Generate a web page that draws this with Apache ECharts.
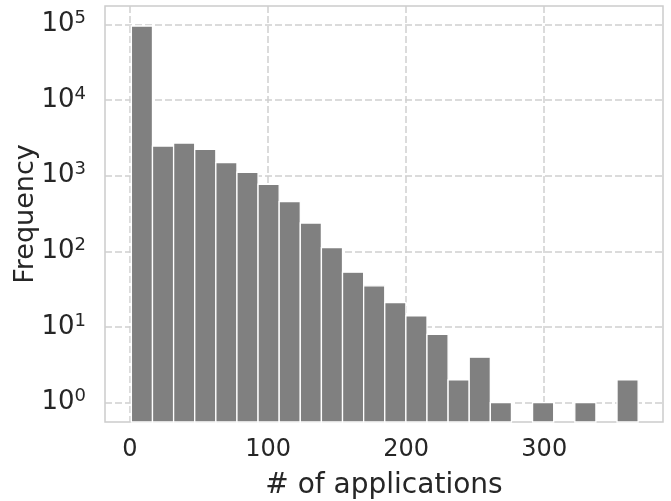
<!DOCTYPE html>
<html>
<head>
<meta charset="utf-8">
<script src="https://cdn.jsdelivr.net/npm/echarts@6/dist/echarts.min.js"></script>
<style>
  html, body { margin: 0; padding: 0; background: #fff; }
  #chart { width: 671px; height: 501px; }
</style>
</head>
<body>
<div id="chart"></div>
<script>
// histogram of # of applications, 24 equal bins from 1 to 368
const binLow = 1;
const binHigh = 368;
const counts = [95000, 2460, 2700, 2220, 1490, 1110, 770, 455, 237, 112, 53, 35,
  21, 14, 8, 2, 4, 1, 0, 1, 0, 1, 0, 2];
const xTicks = [0, 100, 200, 300];
const yTicks = [1, 10, 100, 1000, 10000, 100000];

const binWidth = (binHigh - binLow) / counts.length;
const bins = [];
counts.forEach((c, i) => {
  if (c > 0) bins.push([binLow + i * binWidth, binLow + (i + 1) * binWidth, c]);
});

const textColor = '#262626';
const gridColor = '#d0d0d0';
const font = 'DejaVu Sans';

const chart = echarts.init(document.getElementById('chart'), null, { renderer: 'canvas' });

const option = {
  animation: false,
  grid: {
    left: 105, right: 8, top: 6, bottom: 79,
    outerBoundsMode: 'none',
    containLabel: false,
    show: true,
    borderColor: '#cccccc',
    borderWidth: 1.5
  },
  xAxis: {
    type: 'value',
    min: -18.1,
    max: 386,
    name: '# of applications',
    nameLocation: 'middle',
    nameGap: 50,
    nameMoveOverlap: false,
    nameTextStyle: { fontFamily: font, fontSize: 28, color: textColor },
    axisLine: { show: false },
    axisTick: { show: false, customValues: xTicks },
    axisLabel: {
      customValues: xTicks,
      margin: 16,
      fontFamily: font, fontSize: 24, color: textColor
    },
    splitLine: {
      show: true,
      lineStyle: { color: gridColor, width: 1.5, type: [7, 3] }
    }
  },
  yAxis: {
    type: 'log',
    logBase: 10,
    min: 0.556,
    max: 174600,
    name: 'Frequency',
    nameLocation: 'middle',
    nameGap: 66,
    nameMoveOverlap: false,
    nameTextStyle: { fontFamily: font, fontSize: 27, color: textColor },
    axisLine: { show: false },
    axisTick: { show: false, customValues: yTicks },
    axisLabel: {
      customValues: yTicks,
      margin: 19,
      formatter: (v) => '{b|10}{s|' + Math.round(Math.log10(v)) + '}',
      rich: {
        b: { fontFamily: font, fontSize: 26, lineHeight: 30, color: textColor },
        s: { fontFamily: font, fontSize: 18, lineHeight: 16, color: textColor, verticalAlign: 'top' }
      }
    },
    splitLine: {
      show: true,
      lineStyle: { color: gridColor, width: 1.5, type: [7, 3] }
    }
  },
  series: [{
    type: 'custom',
    data: bins,
    encode: { x: [0, 1], y: 2 },
    renderItem: (params, api) => {
      const p0 = api.coord([api.value(0), api.value(2)]);
      const p1 = api.coord([api.value(1), api.value(2)]);
      const bottom = params.coordSys.y + params.coordSys.height;
      return {
        type: 'rect',
        shape: { x: p0[0], y: p0[1], width: p1[0] - p0[0], height: bottom - p0[1] },
        style: { fill: '#808080', stroke: '#ffffff', lineWidth: 1.3 }
      };
    }
  }]
};

chart.setOption(option);
</script>
</body>
</html>
